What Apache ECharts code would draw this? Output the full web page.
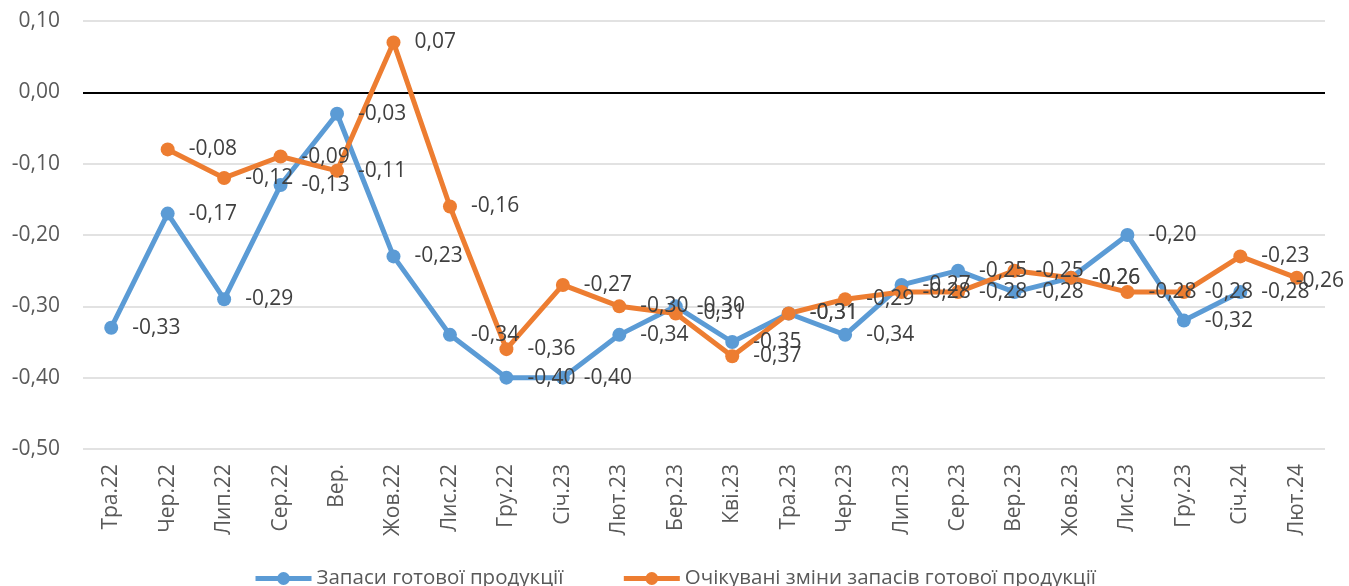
<!DOCTYPE html>
<html>
<head>
<meta charset="utf-8">
<script src="https://cdn.jsdelivr.net/npm/echarts@6/dist/echarts.min.js"></script>
<style>
html,body{margin:0;padding:0;background:#fff;}
#chart{width:1349px;height:586px;}
</style>
</head>
<body>
<div id="chart"></div>
<script>
const categories = ['Тра.22','Чер.22','Лип.22','Сер.22','Вер.','Жов.22','Лис.22','Гру.22','Січ.23','Лют.23','Бер.23','Кві.23','Тра.23','Чер.23','Лип.23','Сер.23','Вер.23','Жов.23','Лис.23','Гру.23','Січ.24','Лют.24'];
const stocks = [-0.33,-0.17,-0.29,-0.13,-0.03,-0.23,-0.34,-0.40,-0.40,-0.34,-0.30,-0.35,-0.31,-0.34,-0.27,-0.25,-0.28,-0.26,-0.20,-0.32,-0.28,null];
const expected = [null,-0.08,-0.12,-0.09,-0.11,0.07,-0.16,-0.36,-0.27,-0.30,-0.31,-0.37,-0.31,-0.29,-0.28,-0.28,-0.25,-0.26,-0.28,-0.28,-0.23,-0.26];
const seriesNames = ['Запаси готової продукції','Очікувані зміни запасів готової продукції'];

const fmt = v => (Math.round(v*100)/100).toFixed(2).replace('.', ',');
const FONT = '"Open Sans", "Noto Sans", sans-serif';

const chart = echarts.init(document.getElementById('chart'), null, {renderer:'canvas'});
function mkSeries(name, values, color, withZero){
  const last = values.length - 1;
  const data = values.map((v, i) => (i === last && v !== null)
    ? {value: v, label: {offset: [-22, 3]}}
    : v);
  const s = {
    name: name,
    type: 'line',
    data: data,
    symbol: 'circle',
    symbolSize: 14,
    lineStyle: {width: 5, color: color},
    itemStyle: {color: color},
    label: {
      show: true,
      position: 'right',
      distance: 14,
      color: '#404040',
      fontSize: 21,
      fontFamily: FONT,
      formatter: p => fmt(p.value)
    },
    emphasis: {disabled: true},
    z: 3
  };
  if (withZero) {
    s.markLine = {
      silent: true,
      symbol: 'none',
      label: {show: false},
      lineStyle: {color: '#000', width: 2, type: 'solid'},
      data: [{yAxis: 0}],
      z: 1
    };
  }
  return s;
}
chart.setOption({
  animation: false,
  backgroundColor: '#fff',
  textStyle: {fontFamily: FONT},
  grid: {left: 83, right: 24, top: 21, bottom: 137, containLabel: false},
  legend: {
    bottom: -8,
    left: 'center',
    itemGap: 58,
    itemWidth: 56,
    itemHeight: 16,
    lineStyle: {width: 5},
    textStyle: {fontSize: 20.5, color: '#595959', fontFamily: FONT},
    data: seriesNames
  },
  xAxis: {
    type: 'category',
    data: categories,
    boundaryGap: true,
    axisLine: {show: false},
    axisTick: {show: false},
    axisLabel: {rotate: 90, fontSize: 21, color: '#595959', margin: 15, fontFamily: FONT, interval: 0}
  },
  yAxis: {
    type: 'value',
    min: -0.5,
    max: 0.1,
    interval: 0.1,
    axisLine: {show: false},
    axisTick: {show: false},
    splitLine: {lineStyle: {color: '#d9d9d9', width: 1.5}},
    axisLabel: {fontSize: 21, color: '#595959', margin: 23, fontFamily: FONT, formatter: v => fmt(v)}
  },
  series: [
    mkSeries(seriesNames[0], stocks, '#5B9BD5', true),
    mkSeries(seriesNames[1], expected, '#ED7D31', false)
  ]
});
</script>
</body>
</html>
